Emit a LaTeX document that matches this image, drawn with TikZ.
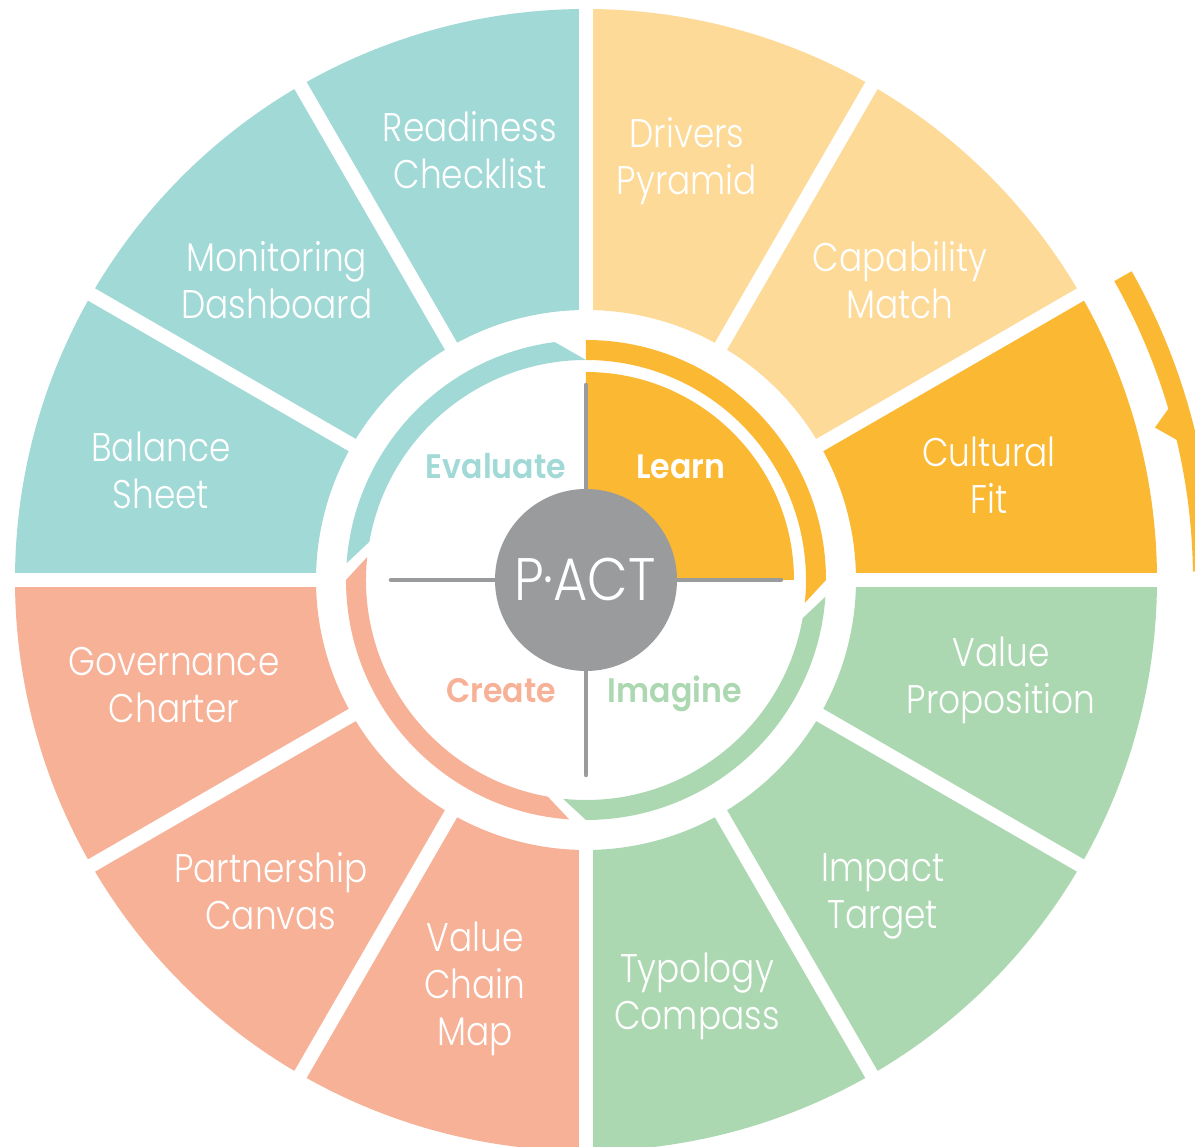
\documentclass[tikz,border=0pt]{standalone}
\usepackage{fontspec}
\IfFontExistsTF{Poppins Light}
  {\newfontfamily\lightf{Poppins Light}[FakeStretch=0.86]}
  {\newfontfamily\lightf{Poppins}[FakeStretch=0.86]}
\IfFontExistsTF{Poppins SemiBold}
  {\newfontfamily\boldf{Poppins SemiBold}[FakeStretch=0.93]}
  {\newfontfamily\boldf{Poppins}[FakeStretch=0.93,FakeBold=1.5]}
\definecolor{tealc}{HTML}{A0D9D6}
\definecolor{yelc}{HTML}{FDDA98}
\definecolor{orgc}{HTML}{FBB933}
\definecolor{grnc}{HTML}{ABD8B1}
\definecolor{salc}{HTML}{F6B197}
\definecolor{gryc}{HTML}{9A9B9D}
\tikzset{
  seplines/.style={white,line width=14pt},
  seglabel/.style={text=white,font=\lightf\fontsize{40}{47}\selectfont,align=center,inner sep=0pt},
  phase/.style={font=\boldf\fontsize{34}{40}\selectfont,inner sep=0pt,anchor=base},
  crossline/.style={gryc,line width=4.5pt,line cap=round}
}
% band: colour, outer start, outer end, inner end, inner start
\newcommand{\pactband}[5]{%
  \fill[#1] (#2:240) arc[start angle=#2,end angle=#3,radius=240] -- (#4:220)
    arc[start angle=#4,end angle=#5,radius=220] -- cycle;}
\begin{document}
\begin{tikzpicture}[x=1pt,y=1pt]
\useasboundingbox (-586,-567) rectangle (609,580);
\clip (-586,-567) rectangle (609,580);
\fill[white] (-586,-567) rectangle (609,580);
% outer segments
\foreach \a/\c in {90/tealc,120/tealc,150/tealc,180/salc,210/salc,240/salc,270/grnc,300/grnc,330/grnc,0/orgc,30/yelc,60/yelc}
  \fill[\c] (\a:270) -- (\a:571) arc[start angle=\a,delta angle=30,radius=571]
    -- ({\a+30}:270) arc[start angle=\a+30,delta angle=-30,radius=270] -- cycle;
\foreach \a in {0,30,...,330}
  \draw[seplines] (\a:255) -- (\a:580);
% outer arrow on the right
\fill[orgc] (29.5:607) -- (29.5:627) arc[start angle=29.5,end angle=0.8,radius=627]
  -- (0.8:607) arc[start angle=0.8,end angle=29.5,radius=607] -- cycle;
\fill[orgc] (16.6:610) -- (15:589) -- (13.1:610) -- cycle;
% inner cycle bands
\pactband{orgc}{90}{0}{-6}{90}
\pactband{grnc}{-4}{-90}{-96}{-10}
\pactband{salc}{-94}{-180}{-186}{-100}
\pactband{tealc}{-184}{-262.5}{-270}{-190}
% Learn quarter
\fill[orgc] (0,0) -- (0,208) arc[start angle=90,end angle=0,radius=208] -- cycle;
% cross
\draw[crossline] (-195,0) -- (195,0);
\draw[crossline] (0,195) -- (0,-195);
% centre
\fill[gryc] (0,0) circle[radius=91];
\node[text=white,inner sep=0pt] (pact) at (-1,1)
  {\lightf\fontsize{60}{60}\selectfont\scalebox{1.02}[1]{P·ACT}};
% phase labels
\node[phase,text=tealc] (evaluate) at (-90,101) {Evaluate};
\node[phase,text=white] (learn) at (95,101) {Learn};
\node[phase,text=salc] (create) at (-85,-123) {Create};
\node[phase,text=grnc] (imagine) at (89,-123) {Imagine};
% segment labels
\node[seglabel] (s1) at (-116,430) {Readiness\\Checklist};
\node[seglabel] (s2) at (101,419) {Drivers\\Pyramid};
\node[seglabel] (s3) at (314,300) {Capability\\Match};
\node[seglabel] (s4) at (403,105) {Cultural\\Fit};
\node[seglabel] (s5) at (415,-100) {Value\\Proposition};
\node[seglabel] (s6) at (297,-316) {Impact\\Target};
\node[seglabel] (s7) at (111,-416) {Typology\\Compass};
\node[seglabel] (s8) at (-111,-409) {Value\\Chain\\Map};
\node[seglabel] (s9) at (-315,-311) {Partnership\\Canvas};
\node[seglabel] (s10) at (-412,-105) {Governance\\Charter};
\node[seglabel] (s11) at (-425,110) {Balance\\Sheet};
\node[seglabel] (s12) at (-309,300) {Monitoring\\Dashboard};
\end{tikzpicture}
\end{document}
